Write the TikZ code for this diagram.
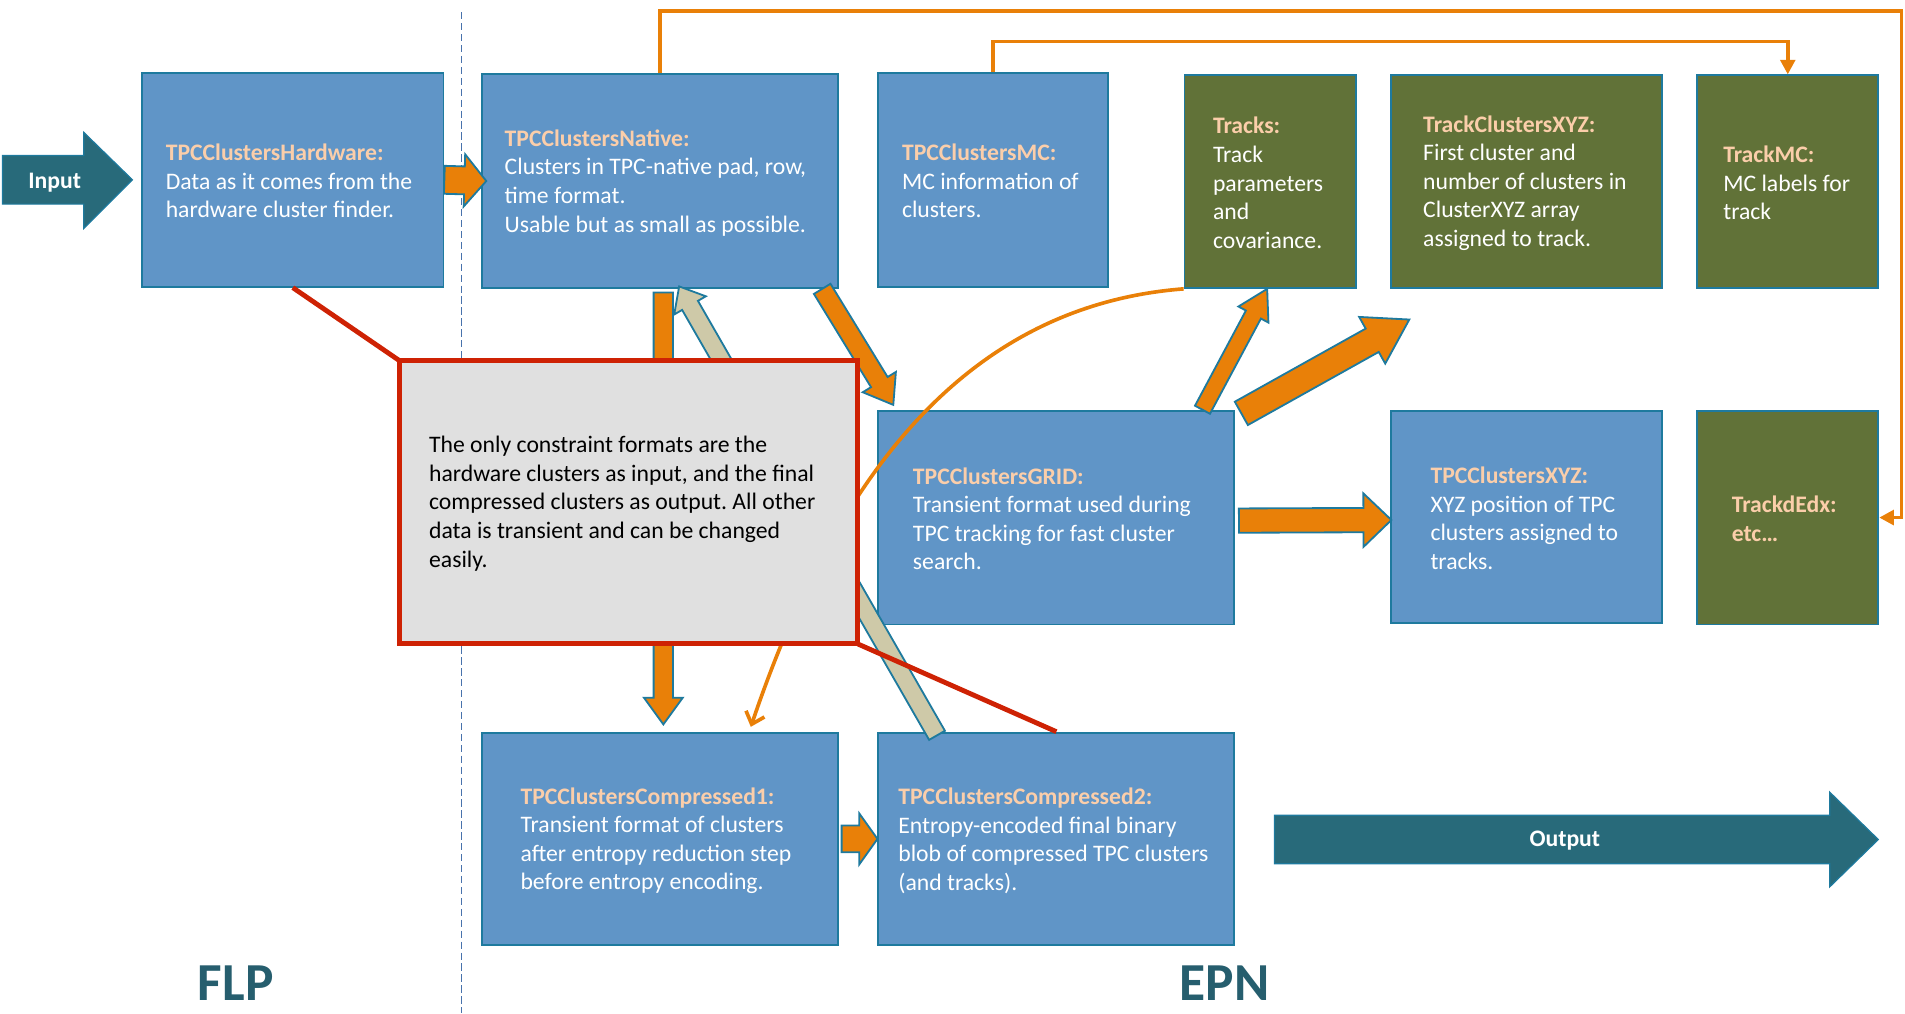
\documentclass[tikz,border=0pt]{standalone}
\usepackage{fontspec}
\setmainfont{Carlito}
\usetikzlibrary{calc,fit,arrows.meta}
\frenchspacing

\definecolor{boxblue}{RGB}{96,149,199}
\definecolor{boxgreen}{RGB}{97,114,56}
\definecolor{boxedge}{RGB}{30,122,158}
\definecolor{peach}{RGB}{251,206,170}
\definecolor{flow}{RGB}{233,128,8}
\definecolor{beige}{RGB}{206,201,168}
\definecolor{ioteal}{RGB}{40,106,122}
\definecolor{tealtext}{RGB}{38,94,110}
\definecolor{callred}{RGB}{206,34,4}
\definecolor{notegrey}{RGB}{224,224,224}
\definecolor{divider}{RGB}{72,114,172}

\newcommand\boxtitle[1]{\textcolor{peach}{\bfseries #1}}

% block arrow: #1 style, #2 start, #3 tip, #4 shaft half width, #5 head half width, #6 head length
\newcommand\blockarrow[6]{%
  \path #2 coordinate (ba-s) #3 coordinate (ba-e);
  \coordinate (ba-h) at ($(ba-e)!#6!(ba-s)$);
  \draw[#1] ($(ba-s)!#4!90:(ba-e)$) -- ($(ba-h)!#4!-90:(ba-s)$)
    -- ($(ba-h)!#5!-90:(ba-s)$) -- (ba-e) -- ($(ba-h)!#5!90:(ba-s)$)
    -- ($(ba-h)!#4!90:(ba-s)$) -- ($(ba-s)!#4!-90:(ba-e)$) -- cycle;
}

\begin{document}
\begin{tikzpicture}[x=1bp,y=-1bp,
  bluebox/.style={rectangle, draw=boxedge, fill=boxblue, line width=1.5bp, inner sep=0pt},
  greenbox/.style={rectangle, draw=boxedge, fill=boxgreen, line width=1.5bp, inner sep=0pt},
  boxtext/.style={anchor=west, inner sep=0pt, align=left, text=white,
    font=\fontsize{19.5bp}{23.5bp}\selectfont},
  thinflow/.style={draw=flow, line width=3bp},
  orangearrow/.style={fill=flow, draw=boxedge, line width=1.5bp, line join=miter},
  beigearrow/.style={fill=beige, draw=boxedge, line width=1.5bp, line join=miter},
  callout/.style={draw=callred, line width=4bp},
  sidelabel/.style={text=tealtext, font=\fontsize{44bp}{48bp}\selectfont\bfseries, inner sep=0pt},
  iolabel/.style={text=white, font=\fontsize{19.5bp}{23.5bp}\selectfont\bfseries, inner sep=0pt}]

\useasboundingbox (0,0) rectangle (1568,834);

% FLP / EPN divider
\draw[divider, line width=1.2bp, dash pattern=on 6bp off 3bp] (380,10) -- (380,834);

% data format boxes
\node[bluebox, fit={(117,60) (365,236)}] (hw) {};
\node[bluebox, fit={(397,61) (690,237)}] (native) {};
\node[bluebox, fit={(723,60) (912,236)}] (mc) {};
\node[greenbox, fit={(975,62) (1116,237)}] (tracks) {};
\node[greenbox, fit={(1145,62) (1368,237)}] (tcxyz) {};
\node[greenbox, fit={(1397,62) (1546,237)}] (trackmc) {};
\node[bluebox, fit={(723,338) (1016,514)}] (grid) {};
\node[bluebox, fit={(1145,338) (1368,513)}] (xyz) {};
\node[greenbox, fit={(1397,338) (1546,514)}] (dedx) {};
\node[bluebox, fit={(397,603) (690,778)}] (comp1) {};
\node[bluebox, fit={(723,603) (1016,778)}] (comp2) {};

% box texts
\node[boxtext] (hwtext) at ([xshift=20bp,yshift=-1bp]hw.west)
  {\boxtitle{TPCClustersHardware:}\\Data as it comes from the\\hardware cluster finder.};
\node[boxtext] (nativetext) at ([xshift=19bp,yshift=-1.5bp]native.west)
  {\boxtitle{TPCClustersNative:}\\Clusters in TPC-native pad, row,\\time format.\\Usable but as small as possible.};
\node[boxtext] (mctext) at ([xshift=20bp,yshift=-1bp]mc.west)
  {\boxtitle{TPCClustersMC:}\\MC information of\\clusters.};
\node[boxtext] (trackstext) at ([xshift=24bp,yshift=-1bp]tracks.west)
  {\boxtitle{Tracks:}\\Track\\parameters\\and\\covariance.};
\node[boxtext] (tcxyztext) at ([xshift=27bp,yshift=-1bp]tcxyz.west)
  {\boxtitle{TrackClustersXYZ:}\\First cluster and\\number of clusters in\\ClusterXYZ array\\assigned to track.};
\node[boxtext] (trackmctext) at ([xshift=22bp,yshift=-1bp]trackmc.west)
  {\boxtitle{TrackMC:}\\MC labels for\\track};
\node[boxtext] (gridtext) at ([xshift=29bp,yshift=-1bp]grid.west)
  {\boxtitle{TPCClustersGRID:}\\Transient format used during\\TPC tracking for fast cluster\\search.};
\node[boxtext] (xyztext) at ([xshift=33bp,yshift=-1bp]xyz.west)
  {\boxtitle{TPCClustersXYZ:}\\XYZ position of TPC\\clusters assigned to\\tracks.};
\node[boxtext] (dedxtext) at ([xshift=29bp,yshift=-1bp]dedx.west)
  {\boxtitle{TrackdEdx:}\\\boxtitle{etc…}};
\node[boxtext] (comp1text) at ([xshift=32bp,yshift=-1.5bp]comp1.west)
  {\boxtitle{TPCClustersCompressed1:}\\Transient format of clusters\\after entropy reduction step\\before entropy encoding.};
\node[boxtext] (comp2text) at ([xshift=17bp,yshift=-1.5bp]comp2.west)
  {\boxtitle{TPCClustersCompressed2:}\\Entropy-encoded final binary\\blob of compressed TPC clusters\\(and tracks).};

% thin orange links along the top
\coordinate (topright) at (1565,9);
\draw[thinflow, -{Triangle[length=12bp,width=12bp]}] (native.north) |- (topright) |- (dedx.east);
\draw[thinflow, -{Triangle[length=12bp,width=12bp]}] (mc.north) -- ++(0,-25) -| (trackmc.north);

% block arrows
\blockarrow{orangearrow}{(hw.east)}{([xshift=4bp]native.west)}{11.5bp}{21.5bp}{18bp}
\blockarrow{orangearrow}{($(native.south)+(2.5,3)$)}{($(comp1.north)+(2.5,-6)$)}{8bp}{16bp}{22bp}
\blockarrow{beigearrow}{($(comp2.north west)+(49,3)$)}{($(native.south)+(15.5,-2)$)}{7.5bp}{15bp}{18bp}
\blockarrow{orangearrow}{($(native.south east)+(-14,0)$)}{($(grid.north west)+(13,-4)$)}{8bp}{16bp}{22bp}
\blockarrow{orangearrow}{($(grid.north east)+(-27,0)$)}{($(tracks.south)+(-2.5,0)$)}{7bp}{14bp}{24bp}
\coordinate (tcxyzin) at (1160,263);
\blockarrow{orangearrow}{($(grid.north east)+(5,3)$)}{(tcxyzin)}{11bp}{22bp}{35bp}
\blockarrow{orangearrow}{($(grid.east)+(3,2.5)$)}{($(xyz.west)+(1,2.5)$)}{10bp}{22bp}{23bp}
\blockarrow{orangearrow}{([xshift=2bp]comp1.east)}{(comp2.west)}{11bp}{21bp}{15bp}

% curved link from the tracks back to the compressed clusters
\coordinate (comp1in) at ($(comp1.north)+(74.5,-4)$);
\draw[thinflow, -{Straight Barb[length=9bp,width=16bp]}]
  (tracks.south west) .. controls (790,252) and (685,400) .. (comp1in);

% callout pointers and note
\draw[callout] (hw.south) -- (329,297);
\draw[callout] (706,530) -- (comp2.north);
\node[draw=callred, fill=notegrey, line width=4bp, inner sep=0pt, fit={(329,297) (706,530)}] (note) {};
\node[anchor=west, inner sep=0pt, align=left, text=black,
  font=\fontsize{19.5bp}{23.75bp}\selectfont] (notetext) at ([xshift=26bp,yshift=-1bp]note.west)
  {The only constraint formats are the\\hardware clusters as input, and the final\\compressed clusters as output. All other\\data is transient and can be changed\\easily.};

% input and output arrows
\filldraw[fill=ioteal, draw=boxedge, line width=1bp]
  (2,128) -- (69,128) -- (69,109) -- (109,148) -- (69,188) -- (69,168) -- (2,168) -- cycle;
\node[iolabel] (input) at (45,150) {Input};
\filldraw[fill=ioteal, draw=boxedge, line width=1bp]
  (1049,671) -- (1506,671) -- (1506,652) -- (1546,691) -- (1506,730) -- (1506,711) -- (1049,711) -- cycle;
\node[iolabel] (output) at (1288,692) {Output};

% side labels
\node[sidelabel] (flp) at (194,809) {FLP};
\node[sidelabel] (epn) at (1008,809) {EPN};

\end{tikzpicture}
\end{document}
